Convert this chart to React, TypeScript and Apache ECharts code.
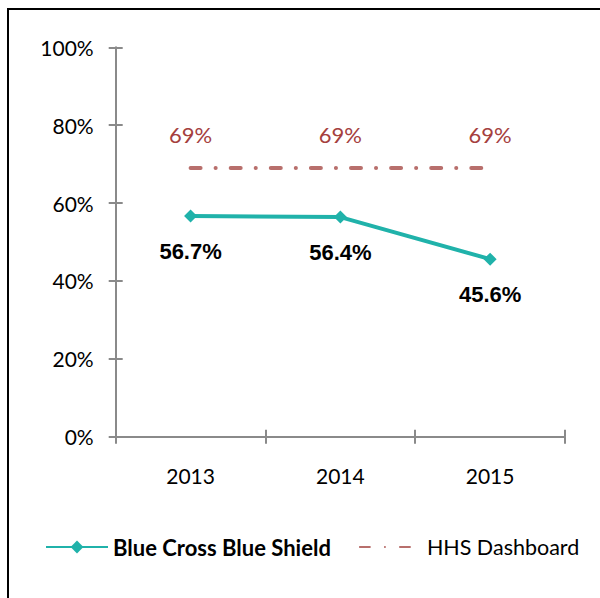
import React, { useEffect, useRef } from "react";
import * as echarts from "echarts";

const categories = ["2013", "2014", "2015"];
const bcbsValues = [56.7, 56.4, 45.6];
const hhsValues = [69, 69, 69];
const seriesNames = ["Blue Cross Blue Shield", "HHS Dashboard"];

const FONT = "Lato, 'Noto Sans', sans-serif";
const AXIS_COLOR = "#8a8a8a";
const TEAL = "#20B2AA";
const HHS_LINE = "#B86F6C";
const HHS_TEXT = "#A5403E";

export default function App() {
  const ref = useRef<HTMLDivElement>(null);
  useEffect(() => {
    if (!ref.current) return;
    const chart = echarts.init(ref.current, undefined, { renderer: "svg" });
    const gridLeft = 115.7;
    const gridTop = 47.3;
    const gridWidth = 449.3;
    const gridHeight = 389.4;
    chart.setOption({
      animation: false,
      backgroundColor: "#ffffff",
      graphic: [
        {
          type: "rect",
          shape: { x: 8, y: 9, width: 620, height: 620 },
          style: { fill: "none", stroke: "#000", lineWidth: 2 },
          silent: true,
        },
      ],
      grid: { left: gridLeft, top: gridTop, width: gridWidth, height: gridHeight, containLabel: false },
      legend: {
        left: 40,
        top: 531,
        itemWidth: 62,
        itemHeight: 16,
        itemGap: 28,
        textStyle: { fontFamily: FONT, fontSize: 21, color: "#000" },
        data: [
          { name: seriesNames[0], textStyle: { fontWeight: "bold", fontFamily: FONT, fontSize: 22, color: "#000" } },
          { name: seriesNames[1], textStyle: { fontWeight: "normal", fontFamily: FONT, fontSize: 21.5, color: "#000" } },
        ],
      },
      xAxis: [
        {
          type: "category",
          data: categories,
          boundaryGap: true,
          position: "bottom",
          axisLine: { show: true, lineStyle: { color: AXIS_COLOR, width: 2 } },
          axisTick: { show: true, inside: false, length: 7, lineStyle: { color: AXIS_COLOR, width: 2 } },
          axisLabel: { fontFamily: FONT, fontSize: 21, color: "#000", margin: 28 },
          splitLine: { show: false },
        },
        {
          type: "category",
          data: categories,
          boundaryGap: true,
          position: "bottom",
          axisLine: { show: false },
          axisTick: { show: true, inside: true, length: 7, lineStyle: { color: AXIS_COLOR, width: 2 } },
          axisLabel: { show: false },
          splitLine: { show: false },
        },
      ],
      yAxis: [
        {
          type: "value",
          min: 0,
          max: 100,
          interval: 20,
          position: "left",
          axisLine: { show: true, lineStyle: { color: AXIS_COLOR, width: 2 } },
          axisTick: { show: true, inside: false, length: 7, lineStyle: { color: AXIS_COLOR, width: 2 } },
          axisLabel: { fontFamily: FONT, fontSize: 21, color: "#000", margin: 22, formatter: "{value}%" },
          splitLine: { show: false },
        },
        {
          type: "value",
          min: 0,
          max: 100,
          interval: 20,
          position: "left",
          axisLine: { show: false },
          axisTick: { show: true, inside: true, length: 7, lineStyle: { color: AXIS_COLOR, width: 2 } },
          axisLabel: { show: false },
          splitLine: { show: false },
        },
      ],
      series: [
        {
          name: seriesNames[0],
          type: "line",
          xAxisIndex: 0,
          yAxisIndex: 0,
          data: bcbsValues,
          symbol: "diamond",
          symbolSize: 13,
          itemStyle: { color: TEAL },
          lineStyle: { color: TEAL, width: 4 },
          label: {
            show: true,
            position: "bottom",
            distance: 18,
            formatter: "{c}%",
            fontFamily: "'Liberation Sans', Arial, sans-serif",
            fontWeight: "bold",
            fontSize: 22,
            color: "#000",
          },
          z: 3,
        },
        {
          name: seriesNames[1],
          type: "line",
          xAxisIndex: 0,
          yAxisIndex: 0,
          data: hhsValues,
          symbol: "circle",
          symbolSize: 0.1,
          itemStyle: { color: "rgba(0,0,0,0)" },
          lineStyle: { color: HHS_LINE, width: 4, type: [10, 15, 0.1, 15], cap: "round" },
          label: {
            show: true,
            position: "top",
            distance: 22,
            formatter: "{c}%",
            fontFamily: FONT,
            fontSize: 22,
            color: HHS_TEXT,
          },
          z: 2,
        },
      ],
    });
    return () => chart.dispose();
  }, []);
  return (
    <div
      ref={ref}
      style={{ position: "fixed", left: 0, top: 0, width: 600, height: 598, background: "#fff" }}
    />
  );
}
